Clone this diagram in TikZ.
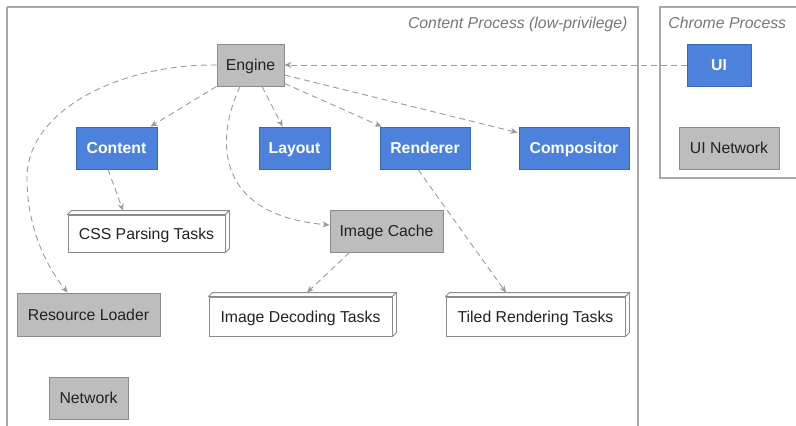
\documentclass[tikz,border=0pt]{standalone}
\usepackage{fontspec}
\setmainfont{Liberation Sans}
\usetikzlibrary{arrows.meta,calc}
\definecolor{blueF}{HTML}{4C82DC}
\definecolor{blueD}{HTML}{3A68B8}
\definecolor{grayF}{HTML}{BDBDBD}
\definecolor{grayD}{HTML}{8C8C8C}
\definecolor{frameC}{HTML}{A8A8A8}
\definecolor{lblC}{HTML}{777777}
\definecolor{arrC}{HTML}{9A9A9A}
\definecolor{txtC}{HTML}{222222}
\begin{document}
\begin{tikzpicture}[x=1pt,y=-1pt,
  every node/.style={font=\fontsize{15.8}{18}\selectfont, inner sep=0pt, line width=0.9pt, text height=11.4pt, text depth=0pt},
  bluebox/.style={draw=blueD, fill=blueF, text=white, font=\fontsize{15.8}{18}\selectfont\bfseries, minimum height=42pt},
  graybox/.style={draw=grayD, fill=grayF, text=txtC, minimum height=42pt},
  taskbox/.style={draw=grayD, fill=white, text=txtC, minimum height=39pt},
  bevel/.style={draw=grayD, fill=white, line width=0.9pt, line join=round},
  framebox/.style={draw=frameC, line width=1.1pt},
  plabel/.style={text=lblC, font=\fontsize{15.8}{18}\selectfont\itshape, anchor=base east},
  conn/.style={draw=arrC, line width=0.9pt, dash pattern=on 6pt off 4pt, -{Stealth[length=7pt,width=6pt]}}
]
\useasboundingbox (0,0) rectangle (796,426);
% frames
\draw[framebox] (7,7) -- (638,7) -- (638,440) (7,7) -- (7,440);
\draw[framebox] (810,178) -- (660,178) -- (660,7) -- (810,7);
\node[plabel] (lcp) at (628,28) {Content Process (low-privilege)};
\node[plabel, anchor=base west] (lch) at (668,28) {Chrome Process};

% nodes
\node[graybox, minimum width=67pt] (engine) at (250.5,65) {Engine};
\node[bluebox, minimum width=81pt] (content) at (116.5,148) {Content};
\node[bluebox, minimum width=71pt] (layout) at (294.5,148) {Layout};
\node[bluebox, minimum width=90pt] (renderer) at (425,148) {Renderer};
\node[bluebox, minimum width=110pt] (compositor) at (574,148) {Compositor};
\node[bluebox, minimum width=64pt] (ui) at (719,65) {UI};
\node[graybox, minimum width=100pt] (uinet) at (729,148) {UI Network};
\node[taskbox, minimum width=157pt, minimum height=37pt] (css) at (146.5,233.5) {CSS Parsing Tasks};
\node[graybox, minimum width=113pt] (imgcache) at (386.5,231) {Image Cache};
\node[graybox, minimum width=143pt, minimum height=43pt] (resloader) at (88.5,314.5) {Resource Loader};
\node[taskbox, minimum width=183pt] (imgdec) at (300.5,316.5) {Image Decoding Tasks};
\node[taskbox, minimum width=179pt] (tiled) at (535.5,316.5) {Tiled Rendering Tasks};
\node[graybox, minimum width=79pt] (network) at (88.5,398) {Network};

% 3D bevels of the task boxes
\foreach \n in {css,imgdec,tiled}{
  \draw[bevel] (\n.north west) -- ++(4,-4) -- ($(\n.north east)+(4,-4)$) -- (\n.north east) -- cycle;
  \draw[bevel] (\n.north east) -- ++(4,-4) -- ($(\n.south east)+(4,-4)$) -- (\n.south east) -- cycle;
}

% connectors
\draw[conn] (ui.west) -- (engine.east);
\draw[conn] (engine.south west) -- ($(content.north east)+(-7,0)$);
\draw[conn] ($(engine.south)+(11.5,0)$) -- ($(layout.north west)+(24,0)$);
\draw[conn] ($(engine.south east)+(0,-3)$) -- ($(renderer.north west)+(2,0)$);
\draw[conn] ($(engine.east)+(0,10)$) -- ($(compositor.north west)+(-1,6)$);
\draw[conn] (engine.west) .. controls (120,64) and (27,110) .. (27,178)
  .. controls (27,230) and (48,268) .. ($(resloader.north west)+(51,0)$);
\draw[conn] ($(engine.south)+(-10.5,0)$) .. controls (215,140) and (215,215) .. ($(imgcache.west)+(0,-6)$);
\draw[conn] ($(content.south)+(-8.5,0)$) -- ($(css.north)+(-23.5,-4)$);
\draw[conn] ($(imgcache.south west)+(20,0)$) -- ($(imgdec.north)+(6.5,-4)$);
\draw[conn] ($(renderer.south)+(-7,0)$) -- ($(tiled.north)+(-29.5,-4)$);
\end{tikzpicture}
\end{document}
